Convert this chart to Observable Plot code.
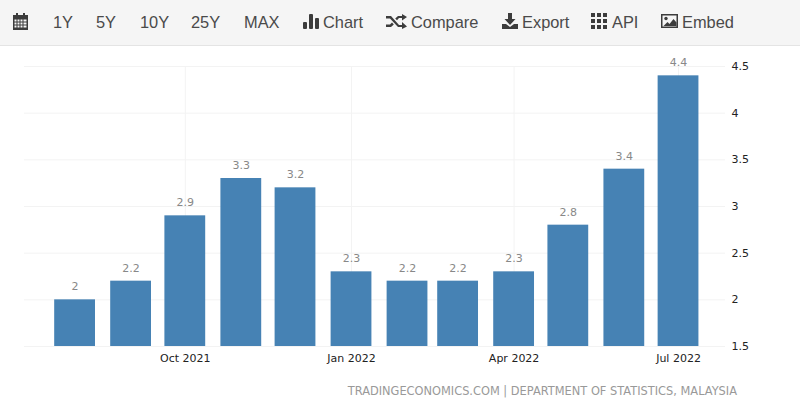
<!DOCTYPE html>
<html>
<head>
<meta charset="utf-8">
<script src="https://cdn.jsdelivr.net/npm/d3@7"></script>
<script src="https://cdn.jsdelivr.net/npm/@observablehq/plot@0.6"></script>
<style>
html,body{margin:0;padding:0;background:#fff;width:800px;height:411px;overflow:hidden;position:relative}
#bar{position:absolute;left:0;top:0;width:800px;height:45px;background:#f5f5f5;border-bottom:1px solid #e4e4e4;font:16.4px "Liberation Sans",Arial,sans-serif;color:#4a4a4a}
#bar span{position:absolute;top:12px;line-height:20px;white-space:nowrap}
#bar svg{position:absolute;fill:#3c3c3c}
#chart{position:absolute;left:0;top:46px}
#source{position:absolute;right:63px;top:384px;font:11.4px "DejaVu Sans",Verdana,sans-serif;color:#999;white-space:nowrap}
</style>
</head>
<body>
<div id="bar">
<svg style="left:12px;top:12px" width="17" height="18" viewBox="0 0 17 18"><path d="M1 3h3V1h2v2h5V1h2v2h3v15H1z"/><path fill="#f5f5f5" d="M2.500 7.500h2v2h-2zM5.500 7.500h2v2h-2zM8.500 7.500h2v2h-2zM11.500 7.500h3v2h-3zM2.500 10.500h2v2h-2zM5.500 10.500h2v2h-2zM8.500 10.500h2v2h-2zM11.500 10.500h3v2h-3zM2.500 13.500h2v2h-2zM5.500 13.500h2v2h-2zM8.500 13.500h2v2h-2zM11.500 13.500h3v2h-3z"/></svg>
<span style="left:53px">1Y</span><span style="left:96px">5Y</span><span style="left:140px">10Y</span><span style="left:191px">25Y</span><span style="left:244px">MAX</span>
<svg style="left:303px;top:13px" width="16" height="16" viewBox="0 0 16 16"><rect x="0" y="9" width="4" height="7" rx="1"/><rect x="6" y="1" width="4" height="15" rx="1"/><rect x="12" y="5" width="4" height="11" rx="1"/></svg>
<span style="left:323px">Chart</span>
<svg style="left:386px;top:14px" width="21" height="15" viewBox="0 0 21 15"><path d="M0 2h5l8 9h3V8l5 4.500-5 2.500v-2h-4L4 4.500H0zM0 10.500h4l2-2 1.800 2L5 13H0zM12 2h4V0l5 3-5 3.500V4h-3l-2 2.300L9.200 4.500z"/></svg>
<span style="left:411px">Compare</span>
<svg style="left:502px;top:13px" width="16" height="16" viewBox="0 0 16 16"><path d="M6 0h4v6h3.500L8 12 2.500 6H6z"/><path d="M0 11h4l4 3 4-3h4v5H0z"/></svg>
<span style="left:522px">Export</span>
<svg style="left:591px;top:13px" width="16" height="16" viewBox="0 0 16 16"><path d="M0 0h4v4H0zM6 0h4v4H6zM12 0h4v4h-4zM0 6h4v4H0zM6 6h4v4H6zM12 6h4v4h-4zM0 12h4v4H0zM6 12h4v4H6zM12 12h4v4h-4z"/></svg>
<span style="left:612px">API</span>
<svg style="left:661px;top:13px" width="17" height="16" viewBox="0 0 17 16"><path fill-rule="evenodd" d="M0 1h17v14H0zM1.500 2.500v11h14v-11z"/><circle cx="5" cy="5.500" r="1.700"/><path d="M2.500 13l4-4 2 2 4-5 3 3.500V13z"/></svg>
<span style="left:682px">Embed</span>
</div>
<div id="chart"></div>
<div id="source">TRADINGECONOMICS.COM | DEPARTMENT OF STATISTICS, MALAYSIA</div>
<script>
const months = ["2021-08-01","2021-09-01","2021-10-01","2021-11-01","2021-12-01","2022-01-01","2022-02-01","2022-03-01","2022-04-01","2022-05-01","2022-06-01","2022-07-01"];
const values = [2,2.2,2.9,3.3,3.2,2.3,2.2,2.2,2.3,2.8,3.4,4.4];
const xTicks = ["2021-10-01","2022-01-01","2022-04-01","2022-07-01"].map(d=>new Date(d));
const yTicks = [1.5,2,2.5,3,3.5,4,4.5];
const rows = months.map((m,i)=>({date:new Date(m),value:values[i]}));
const halfBar = 271; // hours either side of the month's date
const fmt = d3.utcFormat("%b %Y");
const plot = Plot.plot({
  width:800,height:326,
  marginLeft:24,marginRight:75,marginTop:20,marginBottom:26,
  style:{fontFamily:'"DejaVu Sans",Verdana,sans-serif',fontSize:"11px",background:"transparent",overflow:"visible"},
  x:{type:"utc",domain:[new Date("2021-07-04"),new Date("2022-07-27")]},
  y:{domain:[1.5,4.5]},
  marks:[
    Plot.gridY(yTicks,{stroke:"#f3f3f3",strokeOpacity:1}),
    Plot.gridX(xTicks,{stroke:"#f3f3f3",strokeOpacity:1}),
    Plot.rectY(rows,{
      x1:d=>d3.utcHour.offset(d.date,-halfBar),
      x2:d=>d3.utcHour.offset(d.date,halfBar),
      y1:1.5,y2:"value",fill:"#4682b4"
    }),
    Plot.text(rows,{x:"date",y:"value",text:d=>String(d.value),dy:-13,fill:"#888",style:{letterSpacing:"0.5px"}}),
    Plot.axisX({ticks:xTicks,tickFormat:fmt,tickSize:0,tickPadding:8,label:null,fill:"#222"}),
    Plot.axisY({anchor:"right",ticks:yTicks,tickFormat:d=>String(d),tickSize:0,tickPadding:6,label:null,fill:"#222"})
  ]
});
document.getElementById("chart").appendChild(plot);
</script>
</body>
</html>
